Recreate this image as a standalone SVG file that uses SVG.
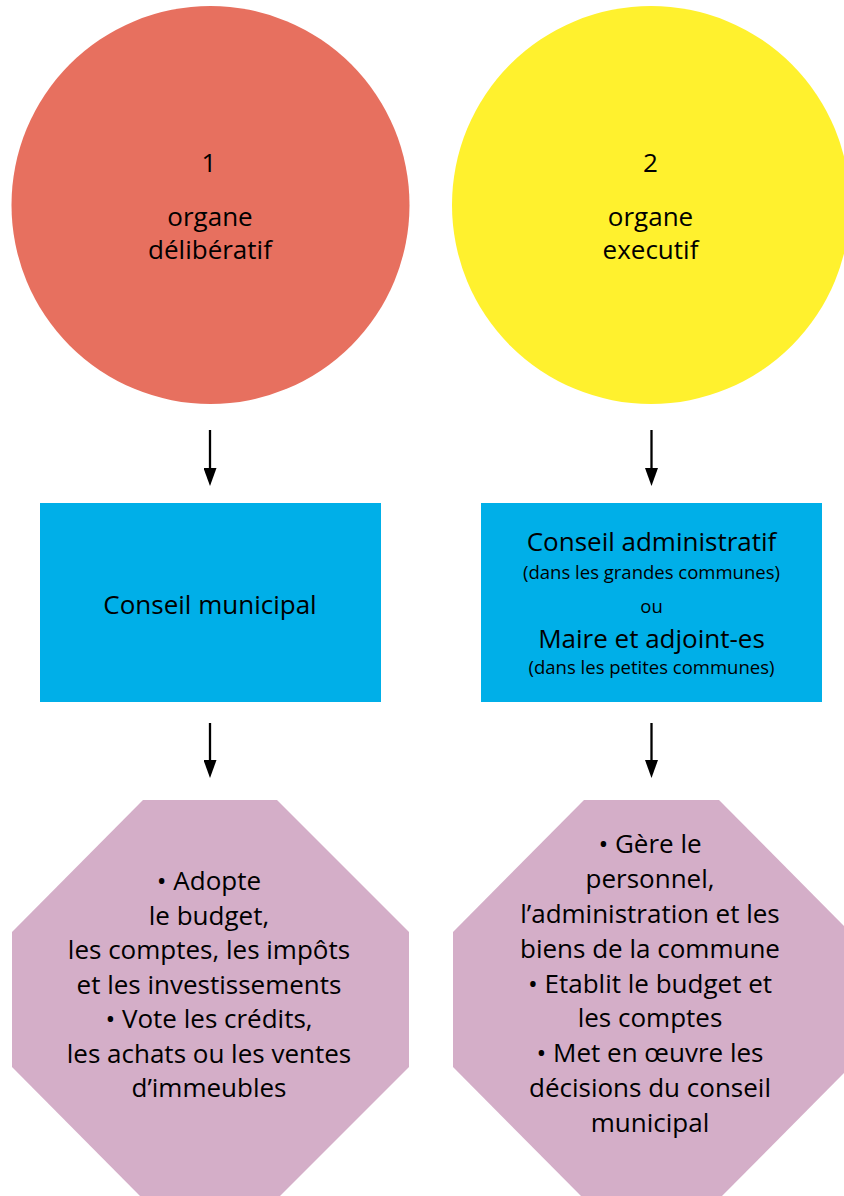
<svg xmlns="http://www.w3.org/2000/svg" width="844" height="1196" viewBox="0 0 844 1196">
<style>
  text { font-family: "Open Sans", "Liberation Sans", sans-serif; fill: #000; text-anchor: middle; }
  .t26 { font-size: 26px; }
  .t18 { font-size: 18.5px; }
  .conn { stroke: #000; stroke-width: 2.3; fill: none; }
</style>
<defs>
  <marker id="arr" markerUnits="userSpaceOnUse" viewBox="0 0 18 13" markerWidth="18" markerHeight="13" refX="12" refY="6.5" orient="auto">
    <path d="M0,0 L18,6.5 L0,13 z" fill="#000"/>
  </marker>
</defs>
<rect width="844" height="1196" fill="#fff"/>

<g id="circle1">
  <circle cx="210.5" cy="205" r="199" fill="#E7705F"/>
  <text class="t26" x="209" y="172">1</text>
  <text class="t26" x="210" y="226">organe</text>
  <text class="t26" x="210" y="259">délibératif</text>
</g>

<g id="circle2">
  <circle cx="651" cy="205" r="199" fill="#FFF12E"/>
  <text class="t26" x="650.5" y="172">2</text>
  <text class="t26" x="650.5" y="226">organe</text>
  <text class="t26" x="650.5" y="259">executif</text>
</g>

<g id="box1">
  <rect x="40" y="503" width="341" height="199" fill="#00AFE8"/>
  <text class="t26" x="210" y="614">Conseil municipal</text>
</g>

<g id="box2">
  <rect x="481" y="503" width="341" height="199" fill="#00AFE8"/>
  <text class="t26" x="651.5" y="551">Conseil administratif</text>
  <text class="t18" x="651.5" y="579">(dans les grandes communes)</text>
  <text class="t18" x="651.5" y="613">ou</text>
  <text class="t26" x="651.5" y="648">Maire et adjoint-es</text>
  <text class="t18" x="651.5" y="674">(dans les petites communes)</text>
</g>

<g id="oct1">
  <polygon points="143,800 277,800 409,932 409,1067 277,1199 143,1199 12,1067 12,932" fill="#D4AEC8"/>
  <text class="t26" x="209" y="890">• Adopte</text>
  <text class="t26" x="209" y="924.5">le budget,</text>
  <text class="t26" x="209" y="959">les comptes, les impôts</text>
  <text class="t26" x="209" y="993.5">et les investissements</text>
  <text class="t26" x="209" y="1028">• Vote les crédits,</text>
  <text class="t26" x="209" y="1062.5">les achats ou les ventes</text>
  <text class="t26" x="209" y="1097">d’immeubles</text>
</g>

<g id="oct2">
  <polygon points="584,800 719,800 850,932 850,1067 719,1199 584,1199 453,1067 453,932" fill="#D4AEC8"/>
  <text class="t26" x="650" y="853">• Gère le</text>
  <text class="t26" x="650" y="888">personnel,</text>
  <text class="t26" x="650" y="923">l’administration et les</text>
  <text class="t26" x="650" y="958">biens de la commune</text>
  <text class="t26" x="650" y="993">• Etablit le budget et</text>
  <text class="t26" x="650" y="1027">les comptes</text>
  <text class="t26" x="650" y="1062">• Met en œuvre les</text>
  <text class="t26" x="650" y="1097">décisions du conseil</text>
  <text class="t26" x="650" y="1132">municipal</text>
</g>

<g id="connectors">
  <path class="conn" d="M210,430 L210,480" marker-end="url(#arr)"/>
  <path class="conn" d="M651.5,430 L651.5,480" marker-end="url(#arr)"/>
  <path class="conn" d="M210,723 L210,772" marker-end="url(#arr)"/>
  <path class="conn" d="M651.5,723 L651.5,772" marker-end="url(#arr)"/>
</g>
</svg>
